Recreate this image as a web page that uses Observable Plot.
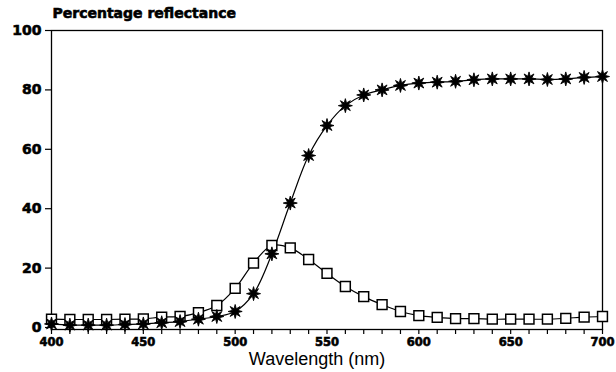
<!DOCTYPE html>
<html>
<head>
<meta charset="utf-8">
<script src="https://cdn.jsdelivr.net/npm/d3@7"></script>
<script src="https://cdn.jsdelivr.net/npm/@observablehq/plot@0.6"></script>
<style>
  html, body { margin: 0; padding: 0; background: #fff; }
  #chart svg { display: block; }
  #chart svg g[aria-label="y-axis tick label"] text,
  #chart svg g[aria-label="x-axis tick label"] text { stroke: #000; stroke-width: 0.6px; }
</style>
</head>
<body>
<div id="chart"></div>
<script>
const title = "Percentage reflectance";
const xLabel = "Wavelength (nm)";
const wavelengths = [400,410,420,430,440,450,460,470,480,490,500,510,520,530,540,550,560,570,580,590,600,610,620,630,640,650,660,670,680,690,700];
const starValues = [1.2,0.8,0.8,0.8,1,1.2,1.6,2,2.8,3.7,5.4,11.4,24.8,41.9,57.9,68,74.7,78.3,80,81.5,82.3,82.6,82.9,83.4,83.7,83.7,83.7,83.5,83.7,84.2,84.5];
const squareValues = [2.8,2.7,2.7,2.7,2.8,2.9,3.5,3.7,5,7.4,13.2,21.7,27.6,26.8,22.9,18.2,13.8,10.4,7.7,5.4,4,3.4,3,3,2.8,2.8,2.8,2.8,3.1,3.5,3.7];
const yTicks = [0,20,40,60,80,100];
const xTicks = [400,410,420,430,440,450,460,470,480,490,500,510,520,530,540,550,560,570,580,590,600,610,620,630,640,650,660,670,680,690,700];
const xTickLabels = [400,450,500,550,600,650,700];

const stars = wavelengths.map((w, i) => ({w, v: starValues[i]}));
const squares = wavelengths.map((w, i) => ({w, v: squareValues[i]}));

const starSymbol = {
  draw(ctx, size) {
    const R = Math.sqrt(size / Math.PI);
    const r = R * 0.42;
    const n = 8;
    for (let k = 0; k < 2 * n; k++) {
      const a = (k * Math.PI) / n - Math.PI / 2;
      const rr = k % 2 === 0 ? R : r;
      const x = rr * Math.cos(a), y = rr * Math.sin(a);
      if (k === 0) ctx.moveTo(x, y); else ctx.lineTo(x, y);
    }
    ctx.closePath();
  }
};
const squareSymbol = {
  draw(ctx, size) {
    const R = Math.sqrt(size / Math.PI);
    const s = R * 0.82;
    ctx.moveTo(-s, -s); ctx.lineTo(s, -s); ctx.lineTo(s, s); ctx.lineTo(-s, s); ctx.closePath();
  }
};

const chart = Plot.plot({
  width: 616,
  height: 372,
  marginLeft: 51,
  marginRight: 14,
  marginTop: 30,
  marginBottom: 43,
  style: {fontFamily: "'DejaVu Sans', sans-serif", background: "#fff", color: "#000"},
  x: {domain: [400, 700]},
  y: {domain: [-0.67, 100]},
  marks: [
    Plot.frame({stroke: "#000", strokeWidth: 1.3}),
    Plot.axisY({ticks: yTicks, tickSize: 6, tickPadding: 4, label: null, fontWeight: "bold", fontSize: 14, stroke: "#000", strokeWidth: 1.2}),
    Plot.axisX({ticks: xTicks, tickSize: 5, tickPadding: 3, label: null, tickFormat: d => xTickLabels.includes(d) ? String(d) : "", fontWeight: "bold", fontSize: 11.5, stroke: "#000", strokeWidth: 1.2}),
    Plot.line(squares, {x: "w", y: "v", curve: "catmull-rom", stroke: "#000", strokeWidth: 1.2}),
    Plot.line(stars, {x: "w", y: "v", curve: "catmull-rom", stroke: "#000", strokeWidth: 1.2}),
    Plot.dot(squares, {x: "w", y: "v", symbol: squareSymbol, r: 6, fill: "#fff", stroke: "#000", strokeWidth: 1.5}),
    Plot.dot(stars, {x: "w", y: "v", symbol: starSymbol, r: 7, fill: "#000", stroke: "#000", strokeWidth: 0.9}),
    Plot.text([title], {frameAnchor: "top-left", text: d => d, dx: 1, dy: -22, textAnchor: "start", lineAnchor: "top", fontWeight: "bold", fontSize: 14}),
    Plot.text([xLabel], {frameAnchor: "bottom", text: d => d, dx: -10, dy: 35, fontFamily: "'Liberation Sans', Arial, sans-serif", fontSize: 18, fill: "#000"})
  ]
});
chart.querySelectorAll("text").forEach(t => { if (t.textContent === title) { t.setAttribute("stroke", "#000"); t.setAttribute("stroke-width", "0.6"); } });
document.getElementById("chart").appendChild(chart);
</script>
</body>
</html>
